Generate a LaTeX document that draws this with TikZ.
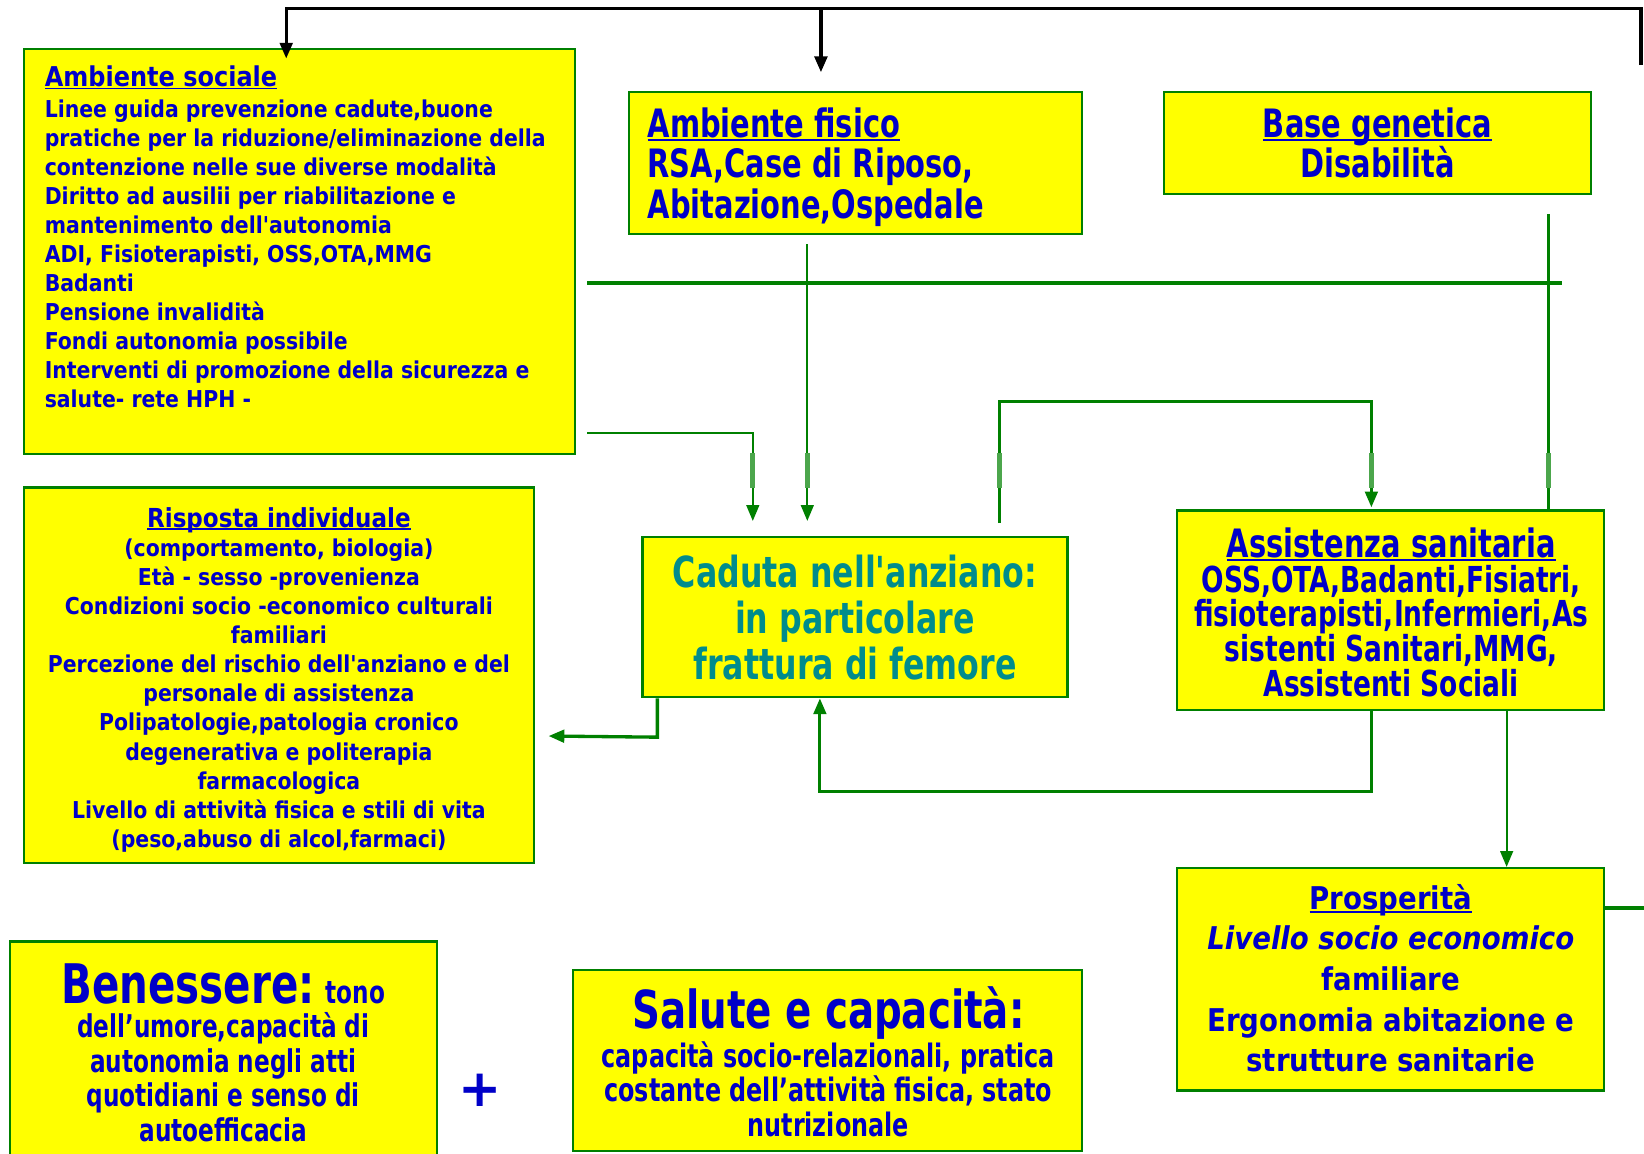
\documentclass[tikz,border=0pt]{standalone}
\usepackage{fontspec}
\usepackage{xcolor}
\usepackage{tikz}
\usetikzlibrary{shapes,arrows.meta}
\setmainfont{DejaVu Sans}
\newfontfamily\midfont[FakeStretch=0.88]{DejaVu Sans}
\newfontfamily\narrowfont[FakeStretch=0.74]{DejaVu Sans}
\definecolor{boxgreen}{RGB}{0,128,0}
\definecolor{boxyellow}{RGB}{255,255,0}
\definecolor{txtblue}{RGB}{0,0,200}
\definecolor{cadutateal}{RGB}{0,140,140}
\newcommand{\uln}[1]{\setbox0\hbox{#1}\rlap{\rule[-0.1em]{\wd0}{0.06em}}\box0}

\begin{document}
\lineskiplimit=-20pt
\begin{tikzpicture}[x=0.01cm, y=-0.01cm,
  box/.style={draw=boxgreen, line width=0.6pt, fill=boxyellow, inner sep=0pt},
  txt/.style={text=txtblue, inner sep=0pt},
  flow/.style={draw=boxgreen, line width=0.6pt},
  bus/.style={draw=black, line width=0.9pt},
  arr/.style={-{Triangle[length=0.15cm,width=0.12cm]}}]

\useasboundingbox (0,0) rectangle (1568,1100);

\node[box, minimum width=5.25cm, minimum height=3.86cm] (sociale) at (285.5,240) {};
\node[box, minimum width=4.32cm, minimum height=1.35cm] (fisico) at (816,155.5) {};
\node[box, minimum width=4.07cm, minimum height=0.97cm] (genetica) at (1313.5,136.5) {};
\node[box, minimum width=4.86cm, minimum height=3.58cm] (risposta) at (266,644) {};
\node[box, minimum width=4.05cm, minimum height=1.53cm] (caduta) at (815.5,588.5) {};
\node[box, minimum width=4.07cm, minimum height=1.90cm] (assist) at (1326.5,582) {};
\node[box, minimum width=4.07cm, minimum height=2.12cm] (prosp) at (1326.5,934) {};
\node[box, minimum width=4.07cm, minimum height=2.24cm] (benessere) at (213.5,1010) {};
\node[box, minimum width=4.85cm, minimum height=1.73cm] (salute) at (789.5,1011.5) {};

\node[txt, anchor=north west, align=left, font=\midfont\bfseries\fontsize{6.3}{7.85}\selectfont] (socialetxt) at (42,62)
  {{\fontsize{7.4}{7.85}\selectfont\uln{Ambiente sociale}}\\[0.6pt]
   Linee guida prevenzione cadute,buone\\
   pratiche per la riduzione/eliminazione della\\
   contenzione nelle sue diverse modalità\\
   Diritto ad ausilii per riabilitazione e\\
   mantenimento dell'autonomia\\
   ADI, Fisioterapisti, OSS,OTA,MMG\\
   Badanti\\
   Pensione invalidità\\
   Fondi autonomia possibile\\
   Interventi di promozione della sicurezza e\\
   salute- rete HPH -};
\node[txt, anchor=north west, align=left, font=\narrowfont\bfseries\fontsize{10.6}{11}\selectfont] (fisicotxt) at (617,102)
  {\uln{Ambiente fisico}\\ RSA,Case di Riposo,\\ Abitazione,Ospedale};
\node[txt, anchor=north, align=center, font=\narrowfont\bfseries\fontsize{10.6}{11}\selectfont] (geneticatxt) at (1314,102)
  {\uln{Base genetica}\\ Disabilità};
\node[txt, anchor=north, align=center, font=\midfont\bfseries\fontsize{6.3}{7.9}\selectfont] (rispostatxt) at (266,483)
  {{\fontsize{7.1}{7.9}\selectfont\uln{Risposta individuale}}\\
   (comportamento, biologia)\\
   Età - sesso -provenienza\\
   Condizioni socio -economico culturali\\
   familiari\\
   Percezione del rischio dell'anziano e del\\
   personale di assistenza\\
   Polipatologie,patologia cronico\\
   degenerativa e politerapia\\
   farmacologica\\
   Livello di attività fisica e stili di vita\\
   (peso,abuso di alcol,farmaci)};
\node[inner sep=0pt, align=center, text=cadutateal, font=\narrowfont\bfseries\fontsize{11.6}{12.5}\selectfont] (cadutatxt) at (815.5,589)
  {Caduta nell'anziano:\\ in particolare\\ frattura di femore};
\node[txt, align=center, font=\narrowfont\bfseries\fontsize{9.7}{9.4}\selectfont] (assisttxt) at (1327,584)
  {{\fontsize{10.6}{9.4}\selectfont\uln{Assistenza sanitaria}}\\
   OSS,OTA,Badanti,Fisiatri,\\
   fisioterapisti,Infermieri,As\\
   sistenti Sanitari,MMG,\\
   Assistenti Sociali};
\node[txt, align=center, font=\midfont\bfseries\fontsize{8.5}{11}\selectfont] (prosptxt) at (1326.5,933)
  {\uln{Prosperità}\\ \textit{Livello socio economico}\\ familiare\\ Ergonomia abitazione e\\ strutture sanitarie};
\node[txt, anchor=north, align=center, font=\narrowfont\bfseries\fontsize{8.5}{9.4}\selectfont] (benesseretxt) at (213,918)
  {{\fontsize{14.8}{16}\selectfont Benessere:} tono\\
   dell’umore,capacità di\\ autonomia negli atti\\ quotidiani e senso di\\ autoefficacia};
\node[txt, anchor=north, align=center, font=\narrowfont\bfseries\fontsize{8.75}{9.4}\selectfont] (salutetxt) at (790,940)
  {{\fontsize{14.2}{16}\selectfont Salute e capacità:}\\[1.2pt]
   capacità socio-relazionali, pratica\\ costante dell’attività fisica, stato\\ nutrizionale};
\node[txt, font=\bfseries\fontsize{14}{14}\selectfont] (plus) at (458,1040) {+};

\coordinate (busR) at (1565,62);
\coordinate (busL) at (273,8);
\coordinate (busM) at (783,8);
\draw[bus, arr] (busR) |- (busL) -- ([yshift=-0.1cm]sociale.north -| busL);
\draw[bus, arr] (busM) -- ([yshift=0.18cm]fisico.north -| busM);

\coordinate (sOut) at (560,413);
\coordinate (hL) at (560,270);
\coordinate (hR) at (1490,270);
\coordinate (pOut) at (1568,866);
\draw[flow, arr] (sOut) -| ([yshift=0.14cm]caduta.north -| 718,0);
\draw[flow, arr] ([yshift=-0.09cm]fisico.south -| 770,0) -- ([yshift=0.14cm]caduta.north -| 770,0);
\draw[flow, line width=0.9pt] (hL) -- (hR);
\draw[flow] ([yshift=-0.18cm]genetica.south -| 1477,0) -- (assist.north -| 1477,0);
\draw[flow, line width=0.8pt, arr] ([yshift=0.12cm]caduta.north -| 953,0) -- ++(0,-116) -| ([yshift=0.02cm]assist.north -| 1308,0);
\draw[flow, line width=0.8pt, arr] (assist.south -| 1308,0) -- ++(0,77) -| (caduta.south -| 782,0);
\draw[flow, line width=0.9pt, arr] (caduta.south -| 627,0) -- ++(0,37) -- ([xshift=0.13cm]risposta.east |- 0,702);
\draw[flow, arr] (assist.south -| 1437,0) -- (prosp.north -| 1437,0);
\draw[flow, line width=0.9pt] (prosp.east |- pOut) -- (pOut);
\foreach \x in {718,770,953,1308,1477}
  \draw[boxgreen!70, line width=1.3pt] (\x,432) -- (\x,465);
\end{tikzpicture}
\end{document}
